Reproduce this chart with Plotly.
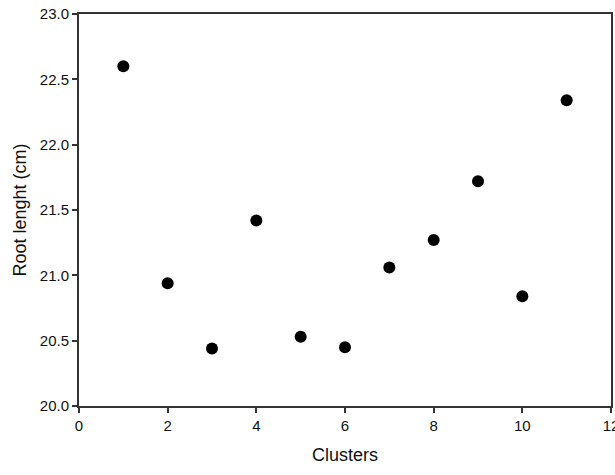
import plotly.graph_objects as go

# Mean root length per cluster
clusters = [1, 2, 3, 4, 5, 6, 7, 8, 9, 10, 11]
root_length = [22.60, 20.94, 20.44, 21.42, 20.53, 20.45, 21.06, 21.27, 21.72, 20.84, 22.34]

x_ticks = [0, 2, 4, 6, 8, 10, 12]
y_ticks = [20.0, 20.5, 21.0, 21.5, 22.0, 22.5, 23.0]

FONT = "Liberation Sans, Arial, sans-serif"

fig = go.Figure(
    go.Scatter(
        x=clusters,
        y=root_length,
        mode="markers",
        marker=dict(color="black", size=12),
        showlegend=False,
    )
)

axis_style = dict(
    showline=True,
    linecolor="#333333",
    linewidth=2,
    mirror=True,
    ticks="outside",
    ticklen=5,
    tickwidth=1.5,
    tickcolor="#333333",
    showgrid=False,
    zeroline=False,
    automargin=False,
    ticklabeloverflow="allow",
    tickfont=dict(family=FONT, size=15, color="#111111"),
)

fig.update_xaxes(
    range=[0, 12],
    tickvals=x_ticks,
    ticktext=[str(v) for v in x_ticks],
    title=dict(text="Clusters", font=dict(family=FONT, size=18, color="#111111"), standoff=15),
    **axis_style,
)
fig.update_yaxes(
    range=[20.0, 23.0],
    tickvals=y_ticks,
    ticktext=[f"{v:.1f}" for v in y_ticks],
    title=dict(text="Root lenght (cm)", font=dict(family=FONT, size=18, color="#111111"), standoff=8),
    **axis_style,
)

fig.update_layout(
    width=615,
    height=475,
    margin=dict(l=79, r=4, t=14, b=69),
    plot_bgcolor="white",
    paper_bgcolor="white",
)

fig.write_html("out.html")
